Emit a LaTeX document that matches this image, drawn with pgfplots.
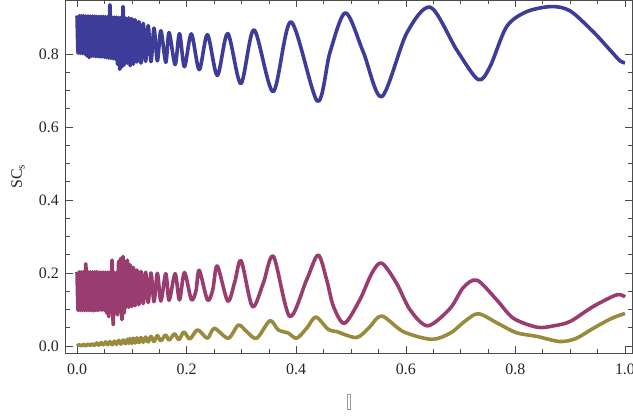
\documentclass[border=0pt]{standalone}
\usepackage{fontspec}
\setmainfont{Liberation Serif}
\usepackage{pgfplots}
\pgfplotsset{compat=1.18}

\definecolor{sOne}{rgb}{0.24,0.24,0.6}
\definecolor{sTwo}{rgb}{0.6,0.24,0.4428}
\definecolor{sThree}{rgb}{0.6,0.547,0.24}

\begin{document}
\begin{tikzpicture}
\begin{axis}[
  scale only axis,
  width=566bp, height=353bp,
  xmin=-0.0206, xmax=1.0128,
  ymin=-0.02, ymax=0.948,
  xtick={0,0.2,0.4,0.6,0.8,1},
  ytick={0,0.2,0.4,0.6,0.8},
  minor tick num=3,
  tick align=inside,
  major tick length=7bp,
  minor tick length=4bp,
  axis line style={black!70, line width=0.8bp},
  every tick/.style={black!70, line width=0.6bp},
  /pgf/number format/assume math mode=true,
  /pgf/number format/fixed,
  /pgf/number format/fixed zerofill,
  /pgf/number format/precision=1,
  ticklabel style={font=\fontsize{16}{18}\selectfont, text=black!85},
  xticklabel style={yshift=-7bp},
  yticklabel style={xshift=-3.4bp},
  ylabel={SC\textsubscript{s}},
  ylabel style={at={(axis description cs:-0.0843,0.5)}, anchor=center,
                font=\fontsize{16}{18}\selectfont, text=black!85},
  xlabel={\tikz\draw[black!40, line width=0.7bp] (0,0) rectangle (2.2bp,15bp);},
  xlabel style={at={(axis description cs:0.5,-0.138)}, anchor=center},
  every axis plot/.append style={line width=3.6bp, line join=round, smooth},
]

% upper response
\addplot[sOne] coordinates {
(0.000,0.905) (0.002,0.802) (0.004,0.905) (0.006,0.802) (0.008,0.905)
(0.010,0.801) (0.012,0.905) (0.014,0.800) (0.016,0.904) (0.018,0.795)
(0.020,0.904) (0.022,0.790) (0.024,0.904) (0.026,0.794) (0.028,0.904)
(0.030,0.794) (0.032,0.904) (0.034,0.793) (0.036,0.903) (0.038,0.793)
(0.040,0.903) (0.042,0.792) (0.044,0.903) (0.046,0.792) (0.048,0.903)
(0.050,0.791) (0.052,0.902) (0.054,0.790) (0.056,0.902) (0.058,0.789)
(0.060,0.935) (0.062,0.788) (0.064,0.901) (0.066,0.787) (0.068,0.901)
(0.070,0.786) (0.072,0.901) (0.074,0.772) (0.076,0.900) (0.078,0.758)
(0.080,0.900) (0.082,0.765) (0.084,0.930) (0.086,0.770) (0.088,0.899)
(0.0918,0.775) (0.0943,0.899) (0.0970,0.768) (0.0998,0.897) (0.1028,0.772)
(0.1059,0.894) (0.1093,0.778) (0.1129,0.889) (0.1167,0.775) (0.1208,0.884)
(0.1252,0.780) (0.1299,0.878) (0.1350,0.779) (0.1405,0.871) (0.1466,0.781)
(0.153,0.864) (0.162,0.777) (0.168,0.859) (0.179,0.771) (0.187,0.856)
(0.196,0.765) (0.2086,0.855) (0.223,0.757) (0.238,0.853) (0.256,0.741)
(0.275,0.856) (0.299,0.719) (0.323,0.866) (0.358,0.697) (0.3905,0.888)
(0.4385,0.671) (0.4617,0.805) (0.490,0.913) (0.5225,0.805) (0.556,0.683)
(0.6016,0.857) (0.645,0.928) (0.693,0.811) (0.732,0.730) (0.7536,0.765)
(0.784,0.875) (0.8206,0.916) (0.866,0.930) (0.900,0.918) (0.942,0.861)
(0.9726,0.811) (0.991,0.781) (1.000,0.776)
};

% middle response
\addplot[sTwo] coordinates {
(0.000,0.203) (0.002,0.097) (0.004,0.203) (0.006,0.097) (0.008,0.203)
(0.010,0.097) (0.012,0.203) (0.014,0.097) (0.016,0.225) (0.018,0.097)
(0.020,0.203) (0.022,0.097) (0.024,0.203) (0.026,0.097) (0.028,0.203)
(0.030,0.096) (0.032,0.203) (0.034,0.097) (0.036,0.203) (0.038,0.097)
(0.040,0.202) (0.042,0.098) (0.044,0.202) (0.046,0.098) (0.048,0.202)
(0.050,0.098) (0.052,0.202) (0.054,0.090) (0.056,0.202) (0.058,0.080)
(0.060,0.202) (0.062,0.092) (0.064,0.235) (0.066,0.058) (0.068,0.201)
(0.070,0.095) (0.072,0.201) (0.074,0.085) (0.076,0.232) (0.078,0.095)
(0.080,0.240) (0.082,0.072) (0.084,0.245) (0.086,0.090) (0.088,0.230)
(0.0894,0.105) (0.0918,0.235) (0.0943,0.106) (0.0970,0.222) (0.0998,0.108)
(0.1028,0.215) (0.1059,0.110) (0.1093,0.208) (0.1129,0.113) (0.1167,0.204)
(0.1208,0.116) (0.1252,0.202) (0.1299,0.119) (0.1350,0.200) (0.1405,0.121)
(0.1466,0.199) (0.153,0.123) (0.162,0.198) (0.168,0.125) (0.179,0.198)
(0.187,0.126) (0.196,0.201) (0.2086,0.127) (0.217,0.150) (0.223,0.207)
(0.238,0.126) (0.2476,0.153) (0.256,0.219) (0.275,0.123) (0.288,0.176)
(0.2995,0.233) (0.320,0.108) (0.340,0.172) (0.3585,0.245) (0.388,0.081)
(0.419,0.181) (0.440,0.249) (0.4556,0.181) (0.468,0.108) (0.488,0.062)
(0.516,0.126) (0.538,0.199) (0.556,0.227) (0.583,0.172) (0.6077,0.099)
(0.640,0.055) (0.681,0.103) (0.705,0.160) (0.730,0.180) (0.766,0.126)
(0.796,0.076) (0.840,0.051) (0.870,0.055) (0.900,0.067) (0.942,0.108)
(0.985,0.140) (1.000,0.134)
};

% lower response
\addplot[sThree] coordinates {
(0.000,0.000) (0.004,0.003) (0.008,0.000) (0.012,0.004) (0.016,0.000)
(0.020,0.005) (0.024,0.001) (0.028,0.006) (0.032,0.001) (0.036,0.008)
(0.040,0.002) (0.044,0.009) (0.048,0.003) (0.052,0.011) (0.056,0.003)
(0.060,0.012) (0.064,0.003) (0.068,0.013) (0.072,0.004) (0.076,0.015)
(0.080,0.005) (0.084,0.016) (0.088,0.006)
(0.0918,0.018) (0.0943,0.007) (0.0970,0.020) (0.0998,0.007) (0.1028,0.021)
(0.1059,0.008) (0.1093,0.022) (0.1129,0.009) (0.1167,0.023) (0.1208,0.010)
(0.1252,0.024) (0.1299,0.011) (0.1350,0.026) (0.1405,0.012) (0.1466,0.028)
(0.153,0.014) (0.1615,0.030) (0.168,0.016) (0.178,0.033) (0.186,0.017)
(0.195,0.038) (0.206,0.019) (0.220,0.044) (0.238,0.021) (0.2506,0.048)
(0.276,0.021) (0.2945,0.057) (0.3096,0.039) (0.328,0.021) (0.352,0.069)
(0.367,0.044) (0.3856,0.035) (0.401,0.021) (0.420,0.050) (0.436,0.079)
(0.4586,0.045) (0.474,0.039) (0.510,0.023) (0.533,0.050) (0.556,0.082)
(0.5955,0.039) (0.647,0.018) (0.681,0.035) (0.710,0.070) (0.733,0.088)
(0.770,0.060) (0.802,0.036) (0.839,0.026) (0.881,0.012) (0.910,0.020)
(0.942,0.048) (0.975,0.075) (1.000,0.089)
};

\coordinate (O) at (rel axis cs:0,0);
\coordinate (T) at (rel axis cs:1,1);
\end{axis}
\pgfresetboundingbox
\path[use as bounding box] ([xshift=-65.7bp,yshift=-62.7bp]O) rectangle ([xshift=1bp]T);
\end{tikzpicture}
\end{document}
